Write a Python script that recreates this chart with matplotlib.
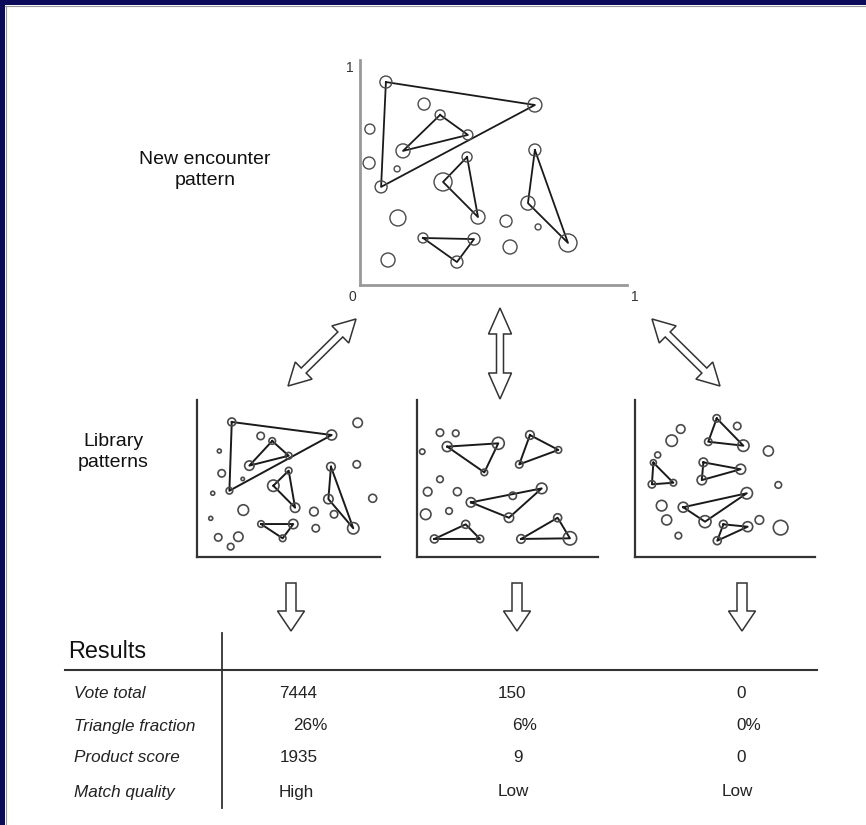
import numpy as np
import matplotlib
matplotlib.use('Agg')
import matplotlib.pyplot as plt
from matplotlib.patches import Polygon, Rectangle

plt.rcParams['font.family'] = ['Liberation Sans', 'DejaVu Sans']

# ---- data: point patterns (normalized panel coords), radii in px, triangle vertex indices ----
main_x = [0.097, 0.655, 0.240, 0.300, 0.037, 0.404, 0.161, 0.034, 0.139, 0.401, 0.655, 0.311,
          0.079, 0.142, 0.442, 0.547, 0.629, 0.667, 0.779, 0.236, 0.427, 0.562, 0.105, 0.363]
main_y = [0.902, 0.800, 0.804, 0.756, 0.693, 0.667, 0.596, 0.542, 0.516, 0.569, 0.600, 0.458,
          0.436, 0.298, 0.302, 0.284, 0.364, 0.258, 0.187, 0.209, 0.204, 0.169, 0.111, 0.102]
main_r = [6, 7, 6, 5, 5, 5, 7, 6, 3, 5, 6, 9, 6, 8, 7, 6, 7, 3, 9, 5, 6, 7, 7, 6]
main_tri = [(0, 1, 12), (3, 5, 6), (9, 11, 14), (10, 16, 18), (19, 20, 23)]

lib1_x = [0.190, 0.736, 0.878, 0.348, 0.411, 0.122, 0.501, 0.286, 0.873, 0.732, 0.135, 0.501,
          0.250, 0.417, 0.177, 0.086, 0.960, 0.718, 0.253, 0.536, 0.639, 0.749, 0.075, 0.350,
          0.526, 0.854, 0.649, 0.116, 0.226, 0.468, 0.184]
lib1_y = [0.860, 0.777, 0.855, 0.771, 0.739, 0.675, 0.645, 0.582, 0.590, 0.575, 0.533, 0.550,
          0.497, 0.454, 0.422, 0.406, 0.374, 0.369, 0.299, 0.314, 0.289, 0.272, 0.246, 0.210,
          0.210, 0.183, 0.183, 0.125, 0.129, 0.119, 0.066]
lib1_r = [4, 5, 4.7, 3.7, 3.3, 2, 3.3, 4.7, 3.7, 4.3, 3.7, 3.3, 1.7, 5.7, 3.3, 2, 4, 4.7,
          5.3, 4.7, 4.3, 3.7, 2, 3.3, 4.7, 5.7, 3.7, 3.7, 4.7, 3.3, 3.3]
lib1_tri = [(0, 1, 14), (4, 6, 7), (13, 11, 19), (9, 17, 25), (23, 24, 29)]

lib2_x = [0.127, 0.214, 0.029, 0.167, 0.449, 0.372, 0.624, 0.781, 0.565, 0.127, 0.059, 0.223,
          0.298, 0.529, 0.689, 0.508, 0.048, 0.177, 0.269, 0.096, 0.348, 0.777, 0.575, 0.845]
lib2_y = [0.792, 0.788, 0.671, 0.703, 0.724, 0.539, 0.777, 0.682, 0.590, 0.495, 0.416, 0.416,
          0.348, 0.390, 0.437, 0.250, 0.272, 0.293, 0.208, 0.115, 0.115, 0.250, 0.115, 0.119]
lib2_r = [3.7, 3.3, 2.7, 5, 6, 3.3, 4.3, 3.3, 3.7, 3.3, 4.3, 4, 4.7, 3.7, 5.3, 4.7, 5.3,
          3.3, 4, 4, 3.7, 4, 4.3, 6.7]
lib2_tri = [(3, 4, 5), (6, 7, 8), (12, 14, 15), (19, 18, 20), (22, 21, 23)]

lib3_x = [0.454, 0.568, 0.254, 0.204, 0.407, 0.602, 0.741, 0.126, 0.102, 0.380, 0.587, 0.371,
          0.094, 0.213, 0.796, 0.621, 0.148, 0.268, 0.389, 0.176, 0.691, 0.491, 0.626, 0.809,
          0.241, 0.457]
lib3_y = [0.883, 0.834, 0.815, 0.741, 0.734, 0.709, 0.675, 0.650, 0.601, 0.603, 0.559, 0.490,
          0.463, 0.473, 0.459, 0.406, 0.327, 0.317, 0.225, 0.236, 0.236, 0.208, 0.193, 0.187,
          0.136, 0.104]
lib3_r = [3.7, 3.7, 4.3, 5.7, 3.7, 5.7, 5, 3, 3, 4.3, 5, 4.7, 3.7, 3.3, 3.3, 5.7, 5.3, 5,
          6, 5, 4.3, 4, 5, 7.3, 3.3, 4]
lib3_tri = [(0, 4, 5), (8, 12, 13), (9, 11, 10), (17, 15, 18), (21, 22, 25)]

# ---- results table ----
row_labels = ['Vote total', 'Triangle fraction', 'Product score', 'Match quality']
col1 = ['7444', '26%', '1935', 'High']
col2 = ['150', '6%', '9', 'Low']
col3 = ['0', '0%', '0', 'Low']

W, H = 866, 825
fig = plt.figure(figsize=(W / 100, H / 100), dpi=100)
fig.patch.set_facecolor('white')

bg = fig.add_axes([0, 0, 1, 1])
bg.set_xlim(0, W)
bg.set_ylim(H, 0)
bg.axis('off')


def px_box(x0, y0, x1, y1):
    return [x0 / W, 1 - y1 / H, (x1 - x0) / W, (y1 - y0) / H]


def draw_pattern(ax, xs, ys, rs, tris, circ_col, line_col, lw_line, lw_circ):
    xs = np.array(xs)
    ys = np.array(ys)
    for t in tris:
        idx = list(t) + [t[0]]
        ax.plot(xs[idx], ys[idx], color=line_col, lw=lw_line, clip_on=False, zorder=2)
    sizes = (np.array(rs) * 2 * 0.72) ** 2
    ax.scatter(xs, ys, s=sizes, facecolors='none', edgecolors=circ_col,
               linewidths=lw_circ, clip_on=False, zorder=3)
    ax.set_xlim(0, 1)
    ax.set_ylim(0, 1)
    ax.set_xticks([])
    ax.set_yticks([])
    ax.spines['top'].set_visible(False)
    ax.spines['right'].set_visible(False)
    ax.patch.set_alpha(0)


# main panel
ax_main = fig.add_axes(px_box(360, 60, 627, 285))
draw_pattern(ax_main, main_x, main_y, main_r, main_tri, '#4a4a4a', '#1a1a1a', 1.3, 1.0)
for s in ['left', 'bottom']:
    ax_main.spines[s].set_color('#999999')
    ax_main.spines[s].set_linewidth(2)

# library panels
lib_boxes = [(197, 400, 380, 557), (417, 400, 598, 557), (635, 400, 815, 557)]
libs = [(lib1_x, lib1_y, lib1_r, lib1_tri),
        (lib2_x, lib2_y, lib2_r, lib2_tri),
        (lib3_x, lib3_y, lib3_r, lib3_tri)]
for box, (lx, ly, lr, lt) in zip(lib_boxes, libs):
    ax = fig.add_axes(px_box(*box))
    draw_pattern(ax, lx, ly, lr, lt, '#4a4a4a', '#1a1a1a', 1.4, 1.2)
    for s in ['left', 'bottom']:
        ax.spines[s].set_color('#333333')
        ax.spines[s].set_linewidth(1.6)

# axis labels of main panel
bg.text(350, 68, '1', fontsize=10, ha='center', va='center', color='#333333')
bg.text(352, 297, '0', fontsize=10, ha='center', va='center', color='#333333')
bg.text(635, 297, '1', fontsize=10, ha='center', va='center', color='#333333')

bg.text(205, 170, 'New encounter\npattern', fontsize=14, ha='center', va='center',
        linespacing=1.25, color='#111111')
bg.text(113, 452, 'Library\npatterns', fontsize=14, ha='center', va='center',
        linespacing=1.25, color='#111111')


def double_arrow(p0, p1, sw, hw, hl):
    p0 = np.array(p0, float)
    p1 = np.array(p1, float)
    u = (p1 - p0) / np.linalg.norm(p1 - p0)
    n = np.array([-u[1], u[0]])
    pts = [p0, p0 + u * hl + n * hw, p0 + u * hl + n * sw, p1 - u * hl + n * sw,
           p1 - u * hl + n * hw, p1, p1 - u * hl - n * hw, p1 - u * hl - n * sw,
           p0 + u * hl - n * sw, p0 + u * hl - n * hw]
    bg.add_patch(Polygon(pts, closed=True, facecolor='white', edgecolor='#333333', lw=1.1))


def down_arrow(x, y0, y1, sw, hw, hl):
    pts = [(x - sw, y0), (x + sw, y0), (x + sw, y1 - hl), (x + hw, y1 - hl), (x, y1),
           (x - hw, y1 - hl), (x - sw, y1 - hl)]
    bg.add_patch(Polygon(pts, closed=True, facecolor='white', edgecolor='#333333', lw=1.1))


double_arrow((288, 386), (356, 319), 3.5, 12, 22)
double_arrow((500, 308), (500, 399), 3.5, 11.5, 26)
double_arrow((720, 386), (652, 319), 3.5, 12, 22)

for x in [291, 517, 742]:
    down_arrow(x, 583, 631, 5, 13.5, 20)

# results table
bg.text(68, 651, 'Results', fontsize=16.8, ha='left', va='center', color='#111111')
bg.plot([65, 817], [670, 670], color='#333333', lw=1.5)
bg.plot([222, 222], [633, 808], color='#333333', lw=1.3)

row_y = [693, 726, 758, 792]
col1_x = [279, 293, 280, 279]
col2_x = [498, 512, 513, 498]
col3_x = [736, 736, 736, 722]
for i, y in enumerate(row_y):
    bg.text(74, y, row_labels[i], fontsize=12.3, style='italic', ha='left', va='center',
            color='#222222')
    bg.text(col1_x[i], y, col1[i], fontsize=12.3, ha='left', va='center', color='#222222')
    bg.text(col2_x[i], y, col2[i], fontsize=12.3, ha='left', va='center', color='#222222')
    bg.text(col3_x[i], y, col3[i], fontsize=12.3, ha='left', va='center', color='#222222')

# dark frame on top and left edges
bg.add_patch(Rectangle((0, 0), W, 5, facecolor='#0b0b5a', edgecolor='none'))
bg.add_patch(Rectangle((0, 0), 5, H, facecolor='#0b0b5a', edgecolor='none'))
bg.plot([5, W], [6, 6], color='#999999', lw=0.8)
bg.plot([6, 6], [6, H], color='#999999', lw=0.8)

fig.savefig('out.png', dpi=100)
